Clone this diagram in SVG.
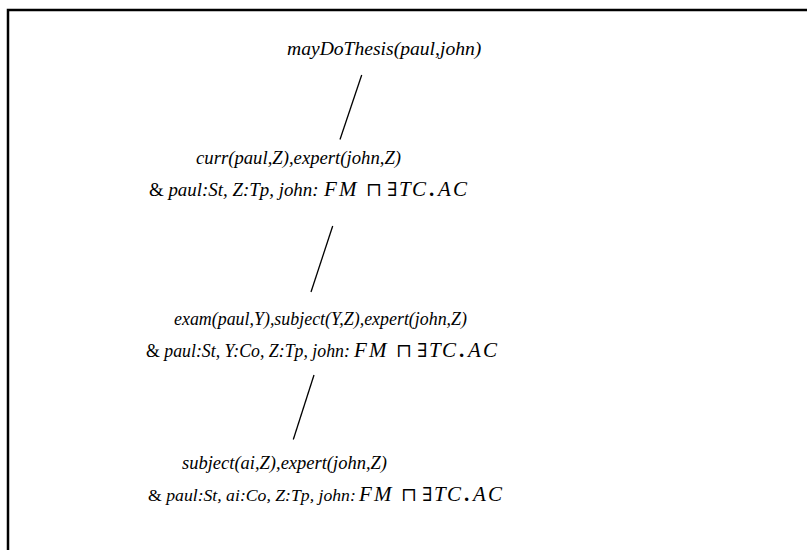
<svg xmlns="http://www.w3.org/2000/svg" width="807" height="550" viewBox="0 0 807 550">
<style>
text { font-family: "Liberation Serif", "DejaVu Serif", serif; font-size: 19px; font-style: italic; fill: #000; }
.up { font-style: normal; }
.mi { font-size: 21px; }
.op { font-style: normal; font-size: 19px; font-family: "DejaVu Serif", "Liberation Serif", serif; }
.dot { font-style: normal; font-weight: bold; font-size: 21px; }
.edge { stroke: #000; stroke-width: 1.3; fill: none; }
</style>
<rect width="807" height="550" fill="#fff"/>
<path d="M8,550 V10 H807" fill="none" stroke="#000" stroke-width="2.5"/>
<g id="connectors">
<line class="edge" x1="361.7" y1="75" x2="340" y2="139.5"/>
<line class="edge" x1="332.7" y1="226" x2="311" y2="292"/>
<line class="edge" x1="314" y1="375" x2="293.3" y2="439.5"/>
</g>
<g id="n1">
<text x="287" y="55" style="font-size:19.6px">mayDoThesis(paul,john)</text>
</g>
<g id="n2">
<text x="196" y="164" style="font-size:18.7px">curr(paul,Z),expert(john,Z)</text>
<text x="149" y="196" style="font-size:18.9px"><tspan class="up">&amp;</tspan> paul:St, Z:Tp, john:</text>
<text y="196"><tspan class="mi" x="324">F</tspan><tspan class="mi" x="339">M</tspan><tspan class="op" x="366">⊓</tspan><tspan class="op" x="387">∃</tspan><tspan class="mi" x="399">T</tspan><tspan class="mi" x="412">C</tspan><tspan class="dot" x="429">.</tspan><tspan class="mi" x="438">A</tspan><tspan class="mi" x="453">C</tspan></text>
</g>
<g id="n3">
<text x="174" y="325" style="font-size:17.9px">exam(paul,Y),subject(Y,Z),expert(john,Z)</text>
<text x="146" y="357" style="font-size:17.8px"><tspan class="up">&amp;</tspan> paul:St, Y:Co, Z:Tp, john:</text>
<text y="357"><tspan class="mi" x="354">F</tspan><tspan class="mi" x="369">M</tspan><tspan class="op" x="396">⊓</tspan><tspan class="op" x="417">∃</tspan><tspan class="mi" x="429">T</tspan><tspan class="mi" x="442">C</tspan><tspan class="dot" x="459">.</tspan><tspan class="mi" x="468">A</tspan><tspan class="mi" x="483">C</tspan></text>
</g>
<g id="n4">
<text x="148" y="501" style="font-size:17.7px"><tspan class="up">&amp;</tspan> paul:St, ai:Co, Z:Tp, john:</text>
<text x="182" y="469" style="font-size:18.5px">subject(ai,Z),expert(john,Z)</text>
<text y="501"><tspan class="mi" x="359">F</tspan><tspan class="mi" x="374">M</tspan><tspan class="op" x="401">⊓</tspan><tspan class="op" x="422">∃</tspan><tspan class="mi" x="434">T</tspan><tspan class="mi" x="447">C</tspan><tspan class="dot" x="464">.</tspan><tspan class="mi" x="473">A</tspan><tspan class="mi" x="488">C</tspan></text>
</g>
</svg>
